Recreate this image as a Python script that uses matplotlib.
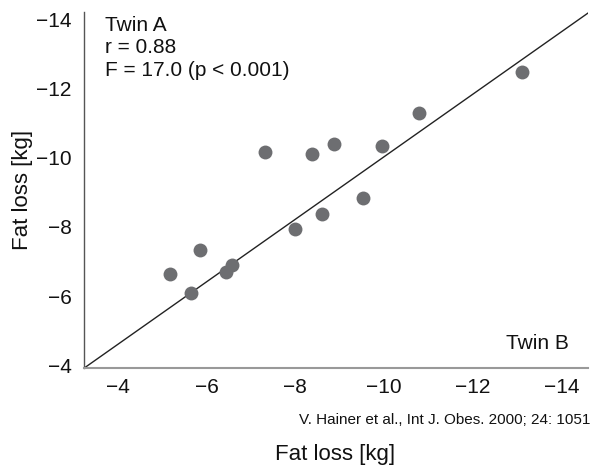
import matplotlib
matplotlib.use("Agg")
from matplotlib import pyplot as plt

plt.rcParams['font.family'] = ['Liberation Sans', 'DejaVu Sans']

# fat loss of twin B (x) and twin A (y), kg
twin_b = [-5.17, -5.65, -5.85, -6.44, -6.57, -7.32, -8.00, -8.38, -8.60, -8.88, -9.53, -9.96, -10.79, -13.12]
twin_a = [-6.64, -6.10, -7.32, -6.70, -6.90, -10.16, -7.95, -10.11, -8.38, -10.39, -8.83, -10.34, -11.30, -12.47]

# reference line ends
line_x = [-3.23, -14.6]
line_y = [-3.92, -14.17]

ticks = [-4, -6, -8, -10, -12, -14]

fig = plt.figure(figsize=(5.92, 4.66), dpi=100)
ax = fig.add_axes([0.142, 0.210, 0.851, 0.764])

ax.plot(line_x, line_y, color="#222222", lw=1.0, zorder=1)
ax.plot(twin_b, twin_a, 'o', color="#6d6e71", markersize=10, markeredgewidth=0, zorder=2)

ax.set_xlim(-3.23, -14.6)
ax.set_ylim(-3.92, -14.2)
ax.set_xticks(ticks)
ax.set_yticks(ticks)
ax.tick_params(length=0, labelsize=15, colors="#111111")
ax.tick_params(axis="y", pad=9)
ax.tick_params(axis="x", pad=7)

for s in ["top", "right"]:
    ax.spines[s].set_visible(False)
ax.spines["left"].set_color("#555555")
ax.spines["bottom"].set_color("#999999")
ax.spines["left"].set_linewidth(1.0)
ax.spines["bottom"].set_linewidth(1.5)

ax.text(0.042, 0.99, "Twin A\nr = 0.88\nF = 17.0 (p < 0.001)", transform=ax.transAxes,
        ha="left", va="top", fontsize=15, linespacing=1.25, color="#111111")
ax.text(0.962, 0.07, "Twin B", transform=ax.transAxes, ha="right", va="center",
        fontsize=15, color="#111111")

ax.set_ylabel("Fat loss [kg]", fontsize=16, labelpad=2, color="#111111")
fig.text(0.566, 0.024, "Fat loss [kg]", ha="center", va="center", fontsize=16, color="#111111")
fig.text(0.997, 0.098, "V. Hainer et al., Int J. Obes. 2000; 24: 1051", ha="right", va="center",
         fontsize=11, color="#111111")

fig.savefig("out.png", dpi=100)
